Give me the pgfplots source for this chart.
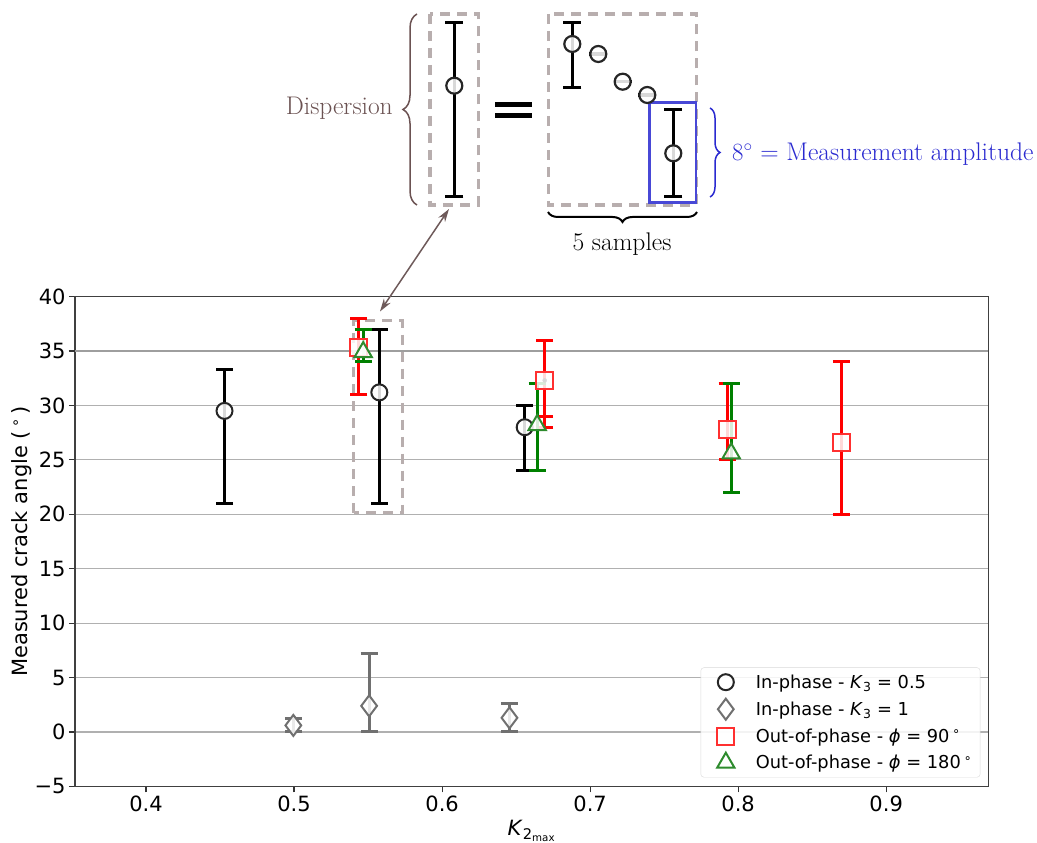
\documentclass[border=0pt]{standalone}
\usepackage{pgfplots}
\pgfplotsset{compat=1.18}
\usepackage{fontspec}
\usetikzlibrary{decorations.pathreplacing,arrows.meta}
\newfontfamily\dejavu{DejaVu Sans}
\newcommand\tickfont{\dejavu\fontsize{21bp}{24bp}\selectfont}
\newcommand\legfont{\dejavu\fontsize{17.8bp}{21bp}\selectfont}
\newcommand\annfont{\fontsize{25.5bp}{30bp}\selectfont}
\definecolor{boxgray}{HTML}{B8AEAE}
\definecolor{disp}{HTML}{6B5252}
\definecolor{arr}{HTML}{6E5A5A}
\definecolor{bluebox}{HTML}{4848D6}
\definecolor{bluetxt}{HTML}{2A2AD0}
\definecolor{sqred}{HTML}{FF3030}
\definecolor{ebgreen}{HTML}{008000}
\definecolor{trigreen}{HTML}{2E8B2E}
\definecolor{dgray}{HTML}{707070}
\definecolor{gridc}{HTML}{B0B0B0}
\begin{document}
\begin{tikzpicture}
\useasboundingbox (0,0) rectangle (1037bp,843bp);
\begin{axis}[
  at={(75bp,56.6bp)}, anchor=south west,
  scale only axis, width=913.3bp, height=489.8bp,
  xmin=0.352, xmax=0.969, ymin=-5, ymax=40,
  xtick={0.4,0.5,0.6,0.7,0.8,0.9},
  xticklabels={0.4,0.5,0.6,0.7,0.8,0.9},
  ytick={-5,0,5,10,15,20,25,30,35,40},
  yticklabels={−5,0,5,10,15,20,25,30,35,40},
  /pgf/number format/assume math mode=true,
  tick label style={font=\tickfont},
  xtick pos=lower, ytick pos=left, tick align=outside,
  major tick length=6bp,
  tick style={black!80, line width=1.2bp},
  axis line style={black!75, line width=1.3bp},
  ymajorgrids, grid style={gridc, line width=1.2bp},
  extra y ticks={35}, extra y tick labels={},
  extra y tick style={grid style={black!38, line width=1.7bp}},
  xlabel={\tickfont\textit{K}\textsubscript{2\textsubscript{max}}},
  xlabel style={at={(axis description cs:0.5,0)}, anchor=north, inner sep=0pt, yshift=-34bp},
  ylabel={\tickfont Measured crack angle (\,\textsuperscript{∘}\,)},
  ylabel style={at={(axis description cs:-0.058,0.5)}, anchor=center, inner sep=0pt},
  clip=false,
  legend style={at={(1,0)}, anchor=south east, xshift=-8bp, yshift=9bp,
    draw=black!15, rounded corners=3bp, fill=white, fill opacity=0.85, text opacity=1,
    font=\legfont, row sep=7bp, inner xsep=6bp, inner ysep=5bp},
  legend cell align=left,
  legend image code/.code={%
    \path[draw=none, fill=none] (0bp,-1bp) rectangle (47bp,1bp);
    \draw[#1] plot coordinates {(19bp,0bp)};},
  error bars/y dir=both, error bars/y explicit,
]
\draw[boxgray, line width=3.5bp, dash pattern=on 10bp off 7bp]
  (axis cs:0.5402,20.15) rectangle (axis cs:0.5731,37.8);

% In-phase K3 = 0.5
\addplot[only marks, mark=*, mark size=8bp,
  mark options={draw=black!85, line width=2bp, fill=white, fill opacity=0.85},
  error bars/error bar style={black, line width=3bp},
  error bars/error mark options={black, rotate=90, mark size=8.5bp, line width=3bp}]
  coordinates {
  (0.453,29.5) += (0,3.8) -= (0,8.5)
  (0.5576,31.2) += (0,5.8) -= (0,10.2)
  (0.6558,28.0) += (0,2.0) -= (0,4.0)
  };
\addlegendentry{In-phase - \textit{K}\textsubscript{3} = 0.5}

% In-phase K3 = 1
\addplot[only marks, mark=diamond*, mark size=10.5bp,
  mark options={draw=dgray, line width=2bp, fill=white, fill opacity=0.85},
  error bars/error bar style={dgray, line width=3bp},
  error bars/error mark options={dgray, rotate=90, mark size=8.5bp, line width=3bp}]
  coordinates {
  (0.4995,0.6) += (0,0.6) -= (0,0.6)
  (0.5507,2.4) += (0,4.8) -= (0,2.4)
  (0.6455,1.3) += (0,1.3) -= (0,1.3)
  };
\addlegendentry{In-phase - \textit{K}\textsubscript{3} = 1}

% Out-of-phase phi = 90
\addplot[forget plot, only marks, mark=none,
  error bars/error bar style={red, line width=3bp},
  error bars/error mark options={red, rotate=90, mark size=8.5bp, line width=3bp}]
  coordinates {
  (0.6693,32.3) += (0,3.7) -= (0,3.3)
  };
\addplot[only marks, mark=square*, mark size=8.5bp,
  mark options={draw=sqred, line width=2bp, fill=white, fill opacity=0.85},
  error bars/error bar style={red, line width=3bp},
  error bars/error mark options={red, rotate=90, mark size=8.5bp, line width=3bp}]
  coordinates {
  (0.5437,35.3) += (0,2.7) -= (0,4.3)
  (0.6693,32.3) += (0,3.7) -= (0,4.3)
  (0.7926,27.8) += (0,4.2) -= (0,2.8)
  (0.8698,26.6) += (0,7.4) -= (0,6.6)
  };
\addlegendentry{Out-of-phase - \textit{ϕ} = 90\,\textsuperscript{∘}}

% Out-of-phase phi = 180
\addplot[only marks, mark=triangle*, mark size=10bp,
  mark options={draw=trigreen, line width=2bp, fill=white, fill opacity=0.85},
  error bars/error bar style={ebgreen, line width=3bp},
  error bars/error mark options={ebgreen, rotate=90, mark size=8.5bp, line width=3bp}]
  coordinates {
  (0.5467,34.9) += (0,2.1) -= (0,0.9)
  (0.6642,28.2) += (0,3.8) -= (0,4.2)
  (0.7953,25.6) += (0,6.4) -= (0,3.6)
  };
\addlegendentry{Out-of-phase - \textit{ϕ} = 180\,\textsuperscript{∘}}
\end{axis}

% overlay axis in pixel coordinates of the figure
\begin{axis}[
  at={(0,0)}, anchor=south west,
  scale only axis, width=1037bp, height=843bp,
  xmin=0, xmax=1037, ymin=0, ymax=843, y dir=reverse,
  hide axis, clip=false,
  error bars/y dir=both, error bars/y explicit,
]
\draw[boxgray, line width=3.5bp, dash pattern=on 10bp off 7bp]
  (axis cs:430,14) rectangle (axis cs:478.3,205);
\draw[boxgray, line width=3.5bp, dash pattern=on 10bp off 7bp]
  (axis cs:548.3,14) rectangle (axis cs:696.7,205);
\draw[bluebox, line width=2.5bp] (axis cs:649.3,102.7) rectangle (axis cs:696,202.3);

\addplot[only marks, mark=*, mark size=8bp,
  mark options={draw=black!85, line width=2.2bp, fill=white, fill opacity=0.85},
  error bars/error bar style={black, line width=3.5bp},
  error bars/error mark options={black, rotate=90, mark size=9bp, line width=3.5bp}]
  coordinates {
  (454.3,85.7) += (0,111) -= (0,63)
  (572.3,44) += (0,43.7) -= (0,21.3)
  (598.3,54) += (0,0) -= (0,0)
  (622.7,81.7) += (0,0) -= (0,0)
  (647.3,95) += (0,0) -= (0,0)
  (673.3,153.3) += (0,43.4) -= (0,44)
  };

% '=' sign
\draw[black, line width=5bp] (axis cs:495,104.5) -- (axis cs:531.7,104.5);
\draw[black, line width=5bp] (axis cs:495,115.5) -- (axis cs:531.7,115.5);

% braces
\draw[disp, line width=1.5bp, decorate, decoration={brace, amplitude=14bp}]
  (axis cs:417,205) -- (axis cs:417,14);
\draw[black, line width=2bp, decorate, decoration={brace, amplitude=10bp}]
  (axis cs:697,212) -- (axis cs:548,212);
\draw[bluetxt, line width=1.5bp, decorate, decoration={brace, amplitude=10bp}]
  (axis cs:710,108) -- (axis cs:710,197);

\node[anchor=east, inner sep=0pt, text=disp, font=\annfont] at (axis cs:393,108) {Dispersion};
\node[anchor=center, inner sep=0pt, font=\annfont] at (axis cs:622,244) {5 samples};
\node[anchor=west, inner sep=0pt, text=bluetxt, font=\annfont] at (axis cs:732,154) {$8^\circ$ = Measurement amplitude};

\draw[arr, line width=1.5bp, {Stealth[length=13bp,width=8bp]}-{Stealth[length=13bp,width=8bp]}]
  (axis cs:449,209) -- (axis cs:380,311.5);
\end{axis}
\end{tikzpicture}
\end{document}
